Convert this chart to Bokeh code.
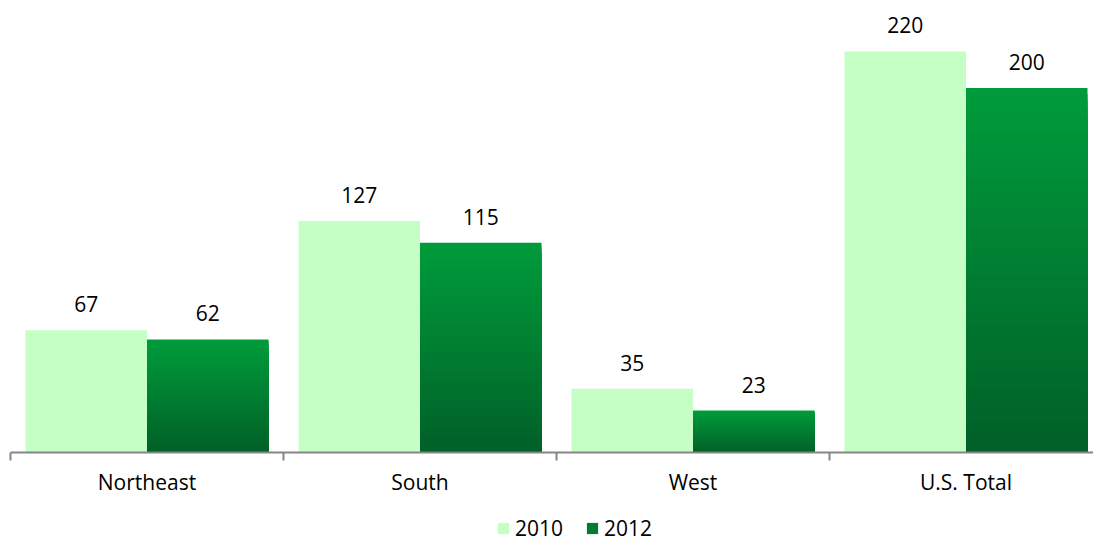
import numpy as np
from bokeh.plotting import figure
from bokeh.layouts import column
from bokeh.models import Range1d, FixedTicker, ColumnDataSource, Legend, LegendItem
from bokeh.core.properties import value
from bokeh.embed import file_html
from bokeh.resources import INLINE

categories = ["Northeast", "South", "West", "U.S. Total"]
series_names = ["2010", "2012"]
values_2010 = [67, 127, 35, 220]
values_2012 = [62, 115, 23, 200]

LIGHT = "#c6ffc6"
DARK_TOP = (0x00, 0x9c, 0x3b)
DARK_BOT = (0x00, 0x60, 0x27)
DARK_MID = "#007d31"
AXIS_COL = "#868686"
FONT = "Open Sans"
FS = "21px"

W = 1093
H1, H2 = 499, 43
LEFT = 10
PX_PER_CAT = 273.0
FRAME_W = W - LEFT
FRAME_H = 452
PX_PER_UNIT = 1.823

p = figure(width=W, height=H1, output_backend="svg", toolbar_location=None,
           x_range=Range1d(0, FRAME_W / PX_PER_CAT),
           y_range=Range1d(0, FRAME_H / PX_PER_UNIT),
           y_axis_location=None,
           min_border_left=LEFT, min_border_right=0, min_border_top=0,
           min_border_bottom=H1 - FRAME_H)
p.outline_line_color = None
p.xgrid.visible = False
p.ygrid.visible = False

centers = np.arange(len(categories)) + 0.5
bw = 0.445
x2010 = centers - bw / 2
x2012 = centers + bw / 2

src10 = ColumnDataSource(dict(x=x2010, top=values_2010,
                              lab=[str(v) for v in values_2010]))
p.vbar(x="x", top="top", bottom=0, width=bw, source=src10,
       fill_color=LIGHT, line_color=None)

# gradient 2012 bars: overlapping bars from tallest (top colour) to shortest (bottom colour)
n = 60
gx, gtop, gcol = [], [], []
for xi, v in zip(x2012, values_2012):
    for k in range(n - 1, -1, -1):
        t = (k + 0.5) / n
        c = tuple(int(round(DARK_BOT[j] + (DARK_TOP[j] - DARK_BOT[j]) * t)) for j in range(3))
        gx.append(xi)
        gtop.append(v * (k + 1) / n)
        gcol.append("#%02x%02x%02x" % c)
src12 = ColumnDataSource(dict(x=gx, top=gtop, color=gcol))
p.vbar(x="x", top="top", bottom=0, width=bw, source=src12,
       fill_color="color", line_color=None)

src12lab = ColumnDataSource(dict(x=x2012, top=values_2012,
                                 lab=[str(v) for v in values_2012]))
for s in (src10, src12lab):
    p.text(x="x", y="top", text="lab", source=s, y_offset=-26,
           text_align="center", text_baseline="middle",
           text_font=value(FONT), text_font_size=FS, text_color="black")

ax = p.xaxis[0]
ax.ticker = FixedTicker(ticks=list(centers), minor_ticks=list(range(len(categories) + 1)))
ax.major_label_overrides = {float(c): name for c, name in zip(centers, categories)}
ax.axis_line_color = AXIS_COL
ax.axis_line_width = 2
ax.major_tick_out = 0
ax.major_tick_in = 0
ax.minor_tick_out = 8
ax.minor_tick_in = 0
ax.minor_tick_line_color = AXIS_COL
ax.minor_tick_line_width = 2
ax.major_label_standoff = 7
ax.major_label_text_font = FONT
ax.major_label_text_font_size = FS
ax.major_label_text_color = "black"

# legend strip
p2 = figure(width=W, height=H2, output_backend="svg", toolbar_location=None,
            x_range=Range1d(0, 1), y_range=Range1d(0, 1),
            x_axis_location=None, y_axis_location=None,
            min_border_left=0, min_border_right=0, min_border_top=0, min_border_bottom=0)
p2.outline_line_color = None
p2.xgrid.visible = False
p2.ygrid.visible = False
zero = ColumnDataSource(dict(x=[0.5], top=[0.0]))
lr10 = p2.vbar(x="x", top="top", bottom=0, width=0.0, source=zero, fill_color=LIGHT, line_color=None)
lr12 = p2.vbar(x="x", top="top", bottom=0, width=0.0, source=zero, fill_color=DARK_MID, line_color=None)
legend = Legend(items=[LegendItem(label=series_names[0], renderers=[lr10]),
                       LegendItem(label=series_names[1], renderers=[lr12])],
                orientation="horizontal", location=(486, 0),
                glyph_width=14, glyph_height=14, label_standoff=5, spacing=22,
                padding=0, margin=0, border_line_color=None, background_fill_alpha=0,
                label_text_font=FONT, label_text_font_size=FS, label_text_color="black")
p2.add_layout(legend, "center")

layout = column(p, p2, spacing=0)
open("out.html", "w").write(file_html(layout, INLINE))
